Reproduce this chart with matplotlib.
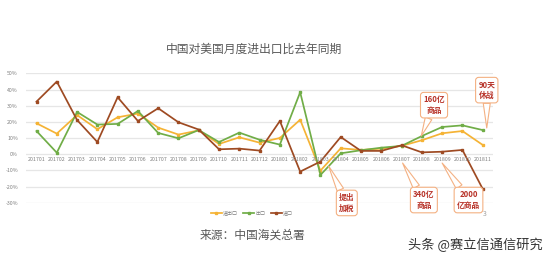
import matplotlib
matplotlib.use('Agg')
import matplotlib.pyplot as plt

plt.rcParams['font.family'] = ['Noto Sans CJK SC', 'DejaVu Sans']

months = ['201701', '201702', '201703', '201704', '201705', '201706', '201707', '201708',
          '201709', '201710', '201711', '201712', '201801', '201802', '201803', '201804',
          '201805', '201806', '201807', '201808', '201809', '201810', '201811']

# 进出口 (total trade), 出口 (exports), 进口 (imports), % vs same month last year
total = [19.2, 12.8, 24.3, 15.5, 22.9, 25.2, 16.5, 12.2, 14.8, 6.4, 10.5, 7.2,
         10.1, 21.4, -10.1, 3.7, 2.7, 3.5, 5.2, 8.7, 13.0, 14.4, 5.8]
exports = [14.4, 1.0, 26.2, 18.4, 18.8, 26.8, 13.2, 9.9, 15.0, 7.6, 13.4, 9.0,
           6.0, 38.4, -12.8, 0.6, 2.5, 4.1, 5.2, 11.3, 16.9, 17.9, 15.0]
imports = [32.6, 45.0, 21.2, 7.6, 35.3, 20.6, 28.5, 19.8, 15.3, 3.1, 3.5, 2.3,
           20.6, -10.7, -4.5, 10.7, 2.1, 2.1, 5.6, 1.2, 1.6, 2.7, -21.4]
series_names = ['进出口', '出口', '进口']
yticks = [50, 40, 30, 20, 10, 0, -10, -20, -30]

fig = plt.figure(figsize=(5.54, 2.62), dpi=100)
ax = fig.add_axes([0.0476, 0.226, 0.842, 0.4935])

colors = ['#F5B335', '#70AD47', '#9E4A22']
xs = list(range(len(months)))
for vals, name, c in zip([total, exports, imports], series_names, colors):
    ax.plot(xs, vals, color=c, lw=1.25, marker='s', ms=1.8, label=name, zorder=3)

ax.set_xlim(-0.5, len(months) - 0.5)
ax.set_ylim(-30, 50)
ax.set_yticks(yticks)
ax.set_yticklabels([f'{t}%' for t in yticks], fontsize=3.8, color='#808080')
ax.tick_params(axis='y', length=0, pad=6)
ax.set_xticks([])
ax.grid(axis='y', color='#E6E6E6', lw=0.9, zorder=0)
for s in ax.spines.values():
    s.set_visible(False)

# category labels sit just under the zero line, Excel style
for x, m in zip(xs, months):
    ax.text(x, -1.8, m, ha='center', va='top', fontsize=3.8, color='#808080')

fig.text(0.458, 0.81, '中国对美国月度进出口比去年同期', ha='center', va='center',
         fontsize=8.5, color='#595959')

ax.legend(loc='center', bbox_to_anchor=(0.455, 0.187), bbox_transform=fig.transFigure,
          ncol=3, frameon=False, fontsize=3.6, handlelength=2.2, columnspacing=1.0,
          handletextpad=0.3, labelcolor='#808080')

callouts = [
    ('160亿\n商品', (18.97, 11.3), (19.6, 30.4)),
    ('90天\n休战', (22.2, 16.3), (22.2, 39.7)),
    ('提出\n加税', (14.4, -7.2), (15.3, -30.1)),
    ('340亿\n商品', (18.05, -5.4), (19.1, -28.3)),
    ('2000\n亿商品', (20.0, -5.4), (21.3, -28.3)),
]
for txt, tip, pos in callouts:
    ax.annotate(txt, xy=tip, xytext=pos, ha='center', va='center', fontsize=5.6,
                fontweight='bold', color='#B8342A', zorder=6, annotation_clip=False,
                linespacing=1.3,
                bbox=dict(boxstyle='round,pad=0.35,rounding_size=0.4', fc='white',
                          ec='#F4B183', lw=0.8),
                arrowprops=dict(arrowstyle='wedge,tail_width=0.9', fc='white',
                                ec='#F4B183', lw=0.8, shrinkA=0, shrinkB=0))

fig.text(485 / 554, 1 - 214 / 262, '3', ha='center', va='center', fontsize=5, color='#A0A0A0')
fig.text(253 / 554, 1 - 235 / 262, '来源：中国海关总署', ha='center', va='center',
         fontsize=8.5, color='#595959')
fig.text(475 / 554, 1 - 245 / 262, '头条 @赛立信通信研究', ha='center', va='center',
         fontsize=9.5, color='#333333')

fig.savefig('out.png', dpi=100, facecolor='white')
